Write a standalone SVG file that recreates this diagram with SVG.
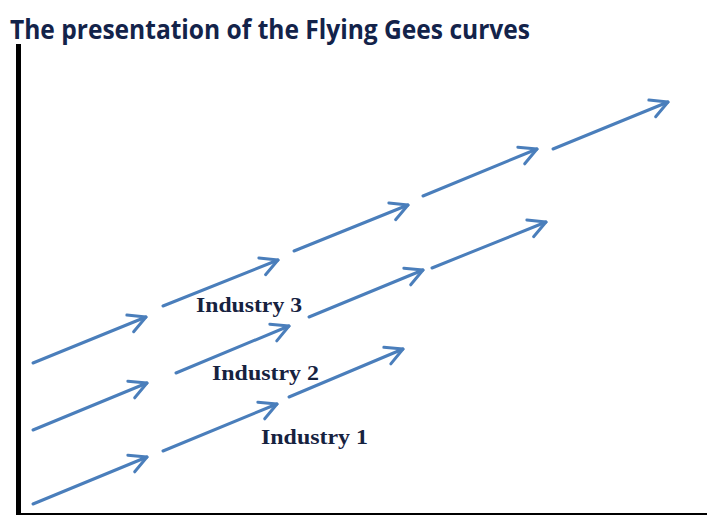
<svg xmlns="http://www.w3.org/2000/svg" width="707" height="516" viewBox="0 0 707 516">
<style>
.title{font-family:"Open Sans","Liberation Sans",sans-serif;font-weight:bold;font-size:26px;fill:#13234a}
.lbl{font-family:"Liberation Serif","Times New Roman",serif;font-weight:bold;font-size:22px;fill:#16223f}
.arr{stroke:#4a7ebb;stroke-width:3;fill:none;stroke-linecap:round;marker-end:url(#head)}
</style>
<defs>
<marker id="head" markerUnits="userSpaceOnUse" markerWidth="30" markerHeight="30" refX="20" refY="10" orient="auto" viewBox="0 0 30 20">
<path d="M3,1 L20,10 L3,19" fill="none" stroke="#4a7ebb" stroke-width="3" stroke-linecap="round" stroke-linejoin="round"/>
</marker>
</defs>
<rect width="707" height="516" fill="#ffffff"/>
<text class="title" x="10" y="39" textLength="520" lengthAdjust="spacingAndGlyphs">The presentation of the Flying Gees curves</text>
<g id="axes">
<line x1="18.5" y1="44" x2="18.5" y2="515" stroke="#000" stroke-width="5"/>
<line x1="16" y1="514" x2="707" y2="514" stroke="#000" stroke-width="2"/>
</g>
<g id="connectors">
<line class="arr" x1="33" y1="363" x2="146" y2="317"/>
<line class="arr" x1="163" y1="306" x2="278" y2="260"/>
<line class="arr" x1="294" y1="251" x2="408" y2="205"/>
<line class="arr" x1="423" y1="196" x2="537" y2="149"/>
<line class="arr" x1="553" y1="149" x2="668" y2="102"/>
<line class="arr" x1="33" y1="430" x2="147" y2="383"/>
<line class="arr" x1="176" y1="373" x2="289" y2="326"/>
<line class="arr" x1="309" y1="317" x2="423" y2="270"/>
<line class="arr" x1="432" y1="268" x2="546" y2="222"/>
<line class="arr" x1="33" y1="504" x2="147" y2="457"/>
<line class="arr" x1="163" y1="451" x2="277" y2="404"/>
<line class="arr" x1="289" y1="397" x2="403" y2="349"/>
</g>
<g id="industry3"><text class="lbl" x="196" y="312" textLength="106" lengthAdjust="spacingAndGlyphs">Industry 3</text></g>
<g id="industry2"><text class="lbl" x="212" y="380" textLength="107" lengthAdjust="spacingAndGlyphs">Industry 2</text></g>
<g id="industry1"><text class="lbl" x="261" y="444" textLength="107" lengthAdjust="spacingAndGlyphs">Industry 1</text></g>
</svg>
